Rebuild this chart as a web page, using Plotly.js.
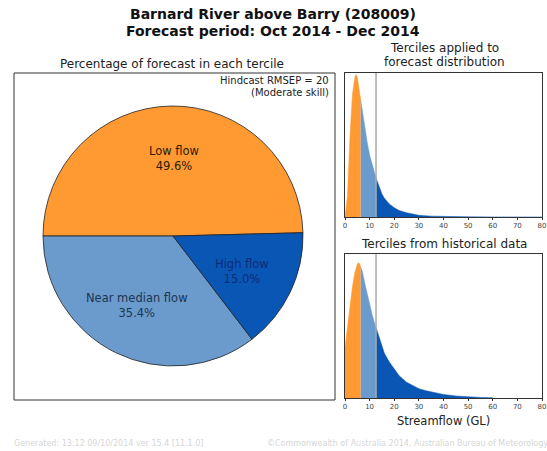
<!DOCTYPE html>
<html>
<head>
<meta charset="utf-8">
<script src="https://cdn.plot.ly/plotly-3.0.1.min.js"></script>
<style>html,body{margin:0;padding:0;background:#fff;}#chart{width:547px;height:451px;}</style>
</head>
<body>
<div id="chart"></div>
<script>
// ---- data ----
const pieLabels = ["Low flow", "Near median flow", "High flow"];
const pieValues = [49.6, 35.4, 15.0];
const tercileColors = ["#FF9A33", "#6A9BCC", "#0A56B4"];
const pieTextColors = ["#2b1a05", "#1c3552", "#0b2c78"];

const terciles = [6.4, 12.6];

const fcX = [0, 1, 2, 3, 4, 4.5, 5, 6, 6.4, 7, 8, 9, 10, 11, 12, 12.6, 13, 14, 15, 16, 18, 20, 22, 25, 28, 30, 35, 40, 50, 60, 80];
const fcY = [0, 0.15, 0.55, 0.85, 0.97, 0.99, 0.97, 0.87, 0.81, 0.74, 0.62, 0.52, 0.43, 0.36, 0.30, 0.27, 0.25, 0.20, 0.16, 0.13, 0.09, 0.065, 0.045, 0.03, 0.018, 0.012, 0.006, 0.003, 0.001, 0.0005, 0];

const hsX = [0, 1, 2, 3, 4, 5, 5.5, 6, 6.4, 7, 8, 9, 10, 11, 12, 12.6, 13, 14, 15, 16, 18, 20, 22, 25, 28, 30, 33, 36, 40, 45, 50, 55, 60];
const hsY = [0.35, 0.5, 0.64, 0.77, 0.87, 0.93, 0.94, 0.93, 0.91, 0.88, 0.80, 0.72, 0.65, 0.58, 0.52, 0.49, 0.47, 0.41, 0.36, 0.31, 0.25, 0.20, 0.155, 0.11, 0.08, 0.065, 0.05, 0.037, 0.025, 0.014, 0.008, 0.004, 0.002];

const xTicks = [0, 10, 20, 30, 40, 50, 60, 70, 80];

const titleLines = ["Barnard River above Barry (208009)", "Forecast period: Oct 2014 - Dec 2014"];
const skillLines = ["Hindcast RMSEP = 20", "(Moderate skill)"];
const footerLeft = "Generated: 13:12 09/10/2014 ver 15.4 [11.1.0]";
const footerRight = "©Commonwealth of Australia 2014, Australian Bureau of Meteorology";

// ---- layout helpers ----
const W = 547, H = 451;
const px = v => v / W;
const py = v => 1 - v / H;
const FONT = "DejaVu Sans";

function segments(xs, ys, xa, ya) {
  const bounds = [-Infinity, terciles[0], terciles[1], Infinity];
  const out = [];
  for (let k = 0; k < 3; k++) {
    const sx = [], sy = [];
    for (let i = 0; i < xs.length; i++) {
      if (xs[i] >= bounds[k] && xs[i] <= bounds[k + 1]) { sx.push(xs[i]); sy.push(ys[i]); }
    }
    out.push({
      type: "scatter", mode: "lines", x: sx, y: sy, xaxis: xa, yaxis: ya,
      fill: "tozeroy", fillcolor: tercileColors[k],
      line: {color: tercileColors[k], width: 0.5}, hoverinfo: "skip", showlegend: false
    });
  }
  return out;
}

// pie geometry (pixels)
const pcx = 173, pcy = 236, pr = 130;

const traces = [
  {
    type: "pie", labels: pieLabels, values: pieValues, sort: false,
    direction: "counterclockwise", rotation: -90,
    marker: {colors: tercileColors, line: {color: "#222", width: 0.8}},
    textinfo: "none", hoverinfo: "skip", showlegend: false,
    domain: {x: [px(pcx - pr), px(pcx + pr)], y: [py(pcy + pr), py(pcy - pr)]}
  },
  ...segments(fcX, fcY, "x", "y"),
  ...segments(hsX, hsY, "x2", "y2")
];

const annotations = [];
// pie labels at 0.6 radius of slice mid-angle
const total = pieValues.reduce((a, b) => a + b, 0);
let cum = 0;
pieValues.forEach((v, i) => {
  const mid = (cum + v / 2) / total * 2 * Math.PI;
  cum += v;
  const ax = pcx + 0.6 * pr * Math.cos(mid);
  const ay = pcy - 0.6 * pr * Math.sin(mid);
  annotations.push({
    xref: "paper", yref: "paper", x: px(ax), y: py(ay), xanchor: "center", yanchor: "middle",
    text: pieLabels[i] + "<br>" + v.toFixed(1) + "%", showarrow: false,
    font: {family: FONT, size: 11.5, color: pieTextColors[i]}
  });
});

const textAnn = (text, x, y, size, opts) => Object.assign({
  xref: "paper", yref: "paper", x: px(x), y: py(y), text: text, showarrow: false,
  xanchor: "center", yanchor: "middle", font: {family: FONT, size: size, color: "#222"}
}, opts || {});

const titleFont = {family: FONT, size: 14, color: "#111"};
annotations.push(textAnn("<b>" + titleLines[0] + "</b>", 273, 14, 14, {font: titleFont}));
annotations.push(textAnn("<b>" + titleLines[1] + "</b>", 273, 31, 14, {font: titleFont}));
annotations.push(textAnn("Percentage of forecast in each tercile", 172, 64, 12));
annotations.push(textAnn("Terciles applied to", 444, 48, 12));
annotations.push(textAnn("forecast distribution", 444, 62, 12));
annotations.push(textAnn("Terciles from historical data", 444, 244, 12));
annotations.push(textAnn("Streamflow (GL)", 443, 421, 11.5));
annotations.push(textAnn(skillLines[0], 331, 80, 10, {xanchor: "right"}));
annotations.push(textAnn(skillLines[1], 331, 92, 10, {xanchor: "right"}));
const footFont = {family: FONT, size: 8, color: "#d6d6d6"};
annotations.push(textAnn(footerLeft, 12, 443, 8, {xanchor: "left", font: footFont}));
annotations.push(textAnn(footerRight, 265, 443, 8, {xanchor: "left", font: footFont}));

const axCommon = {
  showline: true, mirror: true, linecolor: "#333", linewidth: 1,
  showgrid: false, zeroline: false, fixedrange: true
};
const xCommon = Object.assign({}, axCommon, {
  range: [0, 80], tickvals: xTicks, ticks: "outside", ticklen: 2, tickcolor: "#333",
  tickfont: {family: FONT, size: 7, color: "#444"}
});
const yCommon = Object.assign({}, axCommon, {range: [0, 1.0], showticklabels: false, ticks: ""});

const layout = {
  width: W, height: H,
  margin: {l: 0, r: 0, t: 0, b: 0},
  paper_bgcolor: "#fff", plot_bgcolor: "#fff",
  xaxis: Object.assign({}, xCommon, {domain: [px(345), px(542)], anchor: "y"}),
  yaxis: Object.assign({}, yCommon, {domain: [py(217), py(73)], anchor: "x"}),
  xaxis2: Object.assign({}, xCommon, {domain: [px(345), px(542)], anchor: "y2"}),
  yaxis2: Object.assign({}, yCommon, {domain: [py(398), py(254)], anchor: "x2"}),
  shapes: [
    {type: "rect", xref: "paper", yref: "paper", x0: px(14), x1: px(335), y0: py(400), y1: py(73),
     line: {color: "#333", width: 1}, fillcolor: "rgba(0,0,0,0)", layer: "above"},
    {type: "line", xref: "x", yref: "y domain", x0: terciles[1], x1: terciles[1], y0: 0, y1: 1,
     line: {color: "#aaaaaa", width: 1.5}},
    {type: "line", xref: "x2", yref: "y2 domain", x0: terciles[1], x1: terciles[1], y0: 0, y1: 1,
     line: {color: "#aaaaaa", width: 1.5}}
  ],
  annotations: annotations
};

Plotly.newPlot("chart", traces, layout, {displayModeBar: false, staticPlot: true});
</script>
</body>
</html>
